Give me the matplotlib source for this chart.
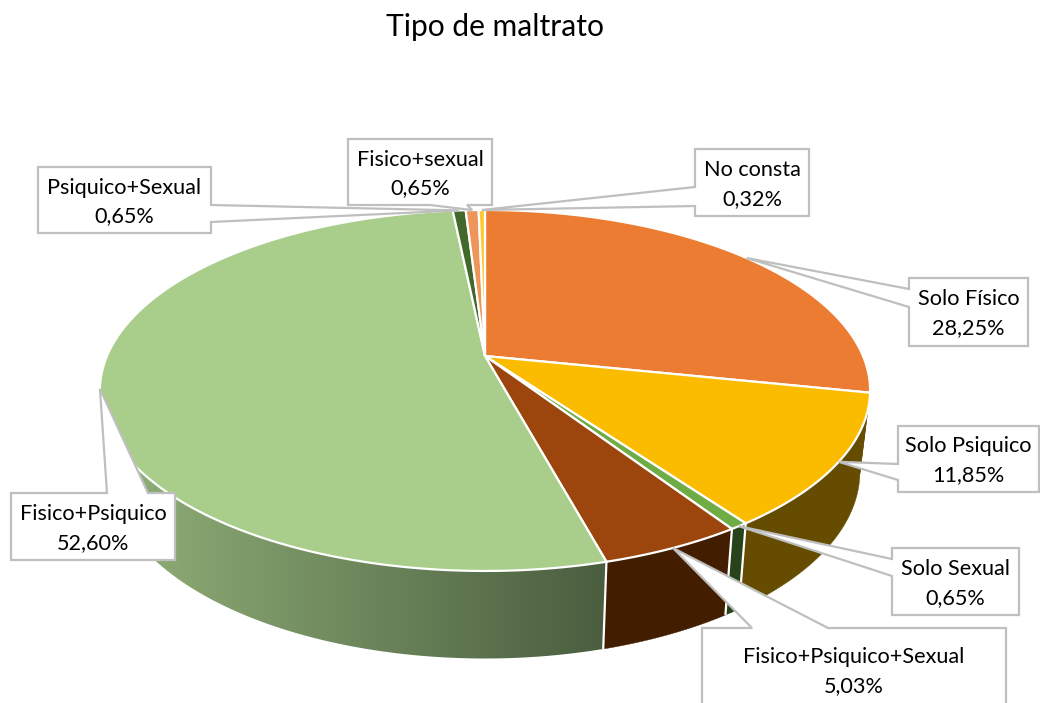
import numpy as np
import matplotlib
matplotlib.use('Agg')
import matplotlib.pyplot as plt
from matplotlib.colors import LinearSegmentedColormap
from matplotlib.patches import Polygon

plt.rcParams['font.family'] = ['Lato', 'DejaVu Sans']

# Datos del grafico
categories = ['Solo Físico', 'Solo Psiquico', 'Solo Sexual', 'Fisico+Psiquico+Sexual',
              'Fisico+Psiquico', 'Psiquico+Sexual', 'Fisico+sexual', 'No consta']
values = [28.25, 11.85, 0.65, 5.03, 52.60, 0.65, 0.65, 0.32]

top_colors = ['#EB7C32', '#FBBC00', '#6FAC46', '#9C460D', '#A9CE8B', '#43682B', '#EE955A', '#FFC82E']
side_colors = ['#5E3114', '#664C00', '#28431B', '#421D00', None, '#28431B', '#5E3114', '#664C00']

# caja de cada etiqueta: x0, y0, x1, y1, lado del que sale la flecha, base de la flecha
boxes = [
    (909, 278, 1028, 346, 'left', 289, 307),
    (898, 426, 1039, 492, 'left', 464, 480),
    (892, 548, 1019, 615, 'left', 559, 576),
    (702, 628, 1006, 720, 'top', 752, 828),
    (11, 493, 175, 560, 'top', 107, 148),
    (38, 167, 211, 233, 'right', 205, 222),
    (348, 139, 492, 205, 'bottom', 430, 467),
    (695, 149, 809, 216, 'left', 187, 206),
]
line_gap = 29

# Proyeccion en perspectiva del circulo, tapa y base
k = 0.191


def top_rim(t):
    w = 1 + k * np.cos(t)
    return 485 + 378 * np.sin(t) / w, 356 - 173.9 * np.cos(t) / w


def bottom_rim(t):
    w = 1 + k * np.cos(t)
    return 485 + 368 * np.sin(t) / w, 436 - 180 * np.cos(t) / w


fig = plt.figure(figsize=(10.4, 7.03), dpi=100)
ax = fig.add_axes([0, 0, 1, 1])

edges = np.radians(np.concatenate([[0], np.cumsum(values)]) * 3.6)

# Lateral
for i in range(len(values)):
    a = max(edges[i], np.radians(95))
    b = min(edges[i + 1], np.radians(275))
    if a >= b:
        continue
    t = np.linspace(a, b, 120)
    xt, yt = top_rim(t)
    xb, yb = bottom_rim(t)
    pts = np.column_stack([np.r_[xt, xb[::-1]], np.r_[yt, yb[::-1]]])
    if side_colors[i] is None:
        # el trozo grande lleva degradado horizontal
        cmap = LinearSegmentedColormap.from_list('lado', ['#93B27A', '#4A5E3F'])
        patch = Polygon(pts, closed=True, facecolor='none', edgecolor='none')
        ax.add_patch(patch)
        im = ax.imshow(np.linspace(0, 1, 256)[None, :], cmap=cmap, aspect='auto',
                       extent=(100, 606, 703, 0), zorder=1)
        im.set_clip_path(patch)
    else:
        ax.add_patch(Polygon(pts, closed=True, facecolor=side_colors[i], edgecolor=side_colors[i],
                             linewidth=0.3, zorder=1))

# separaciones blancas del lateral
for e in edges[1:-1]:
    if np.radians(115) < e < np.radians(265):
        xt, yt = top_rim(e)
        xb, yb = bottom_rim(e)
        ax.plot([xt, xb], [yt, yb], color='white', lw=1.6, zorder=2, solid_capstyle='butt')

# Tapa
for i in range(len(values)):
    t = np.linspace(edges[i], edges[i + 1], 200)
    xt, yt = top_rim(t)
    pts = np.column_stack([np.r_[485, xt], np.r_[356, yt]])
    ax.add_patch(Polygon(pts, closed=True, facecolor=top_colors[i], edgecolor='white',
                         linewidth=1.6, joinstyle='round', zorder=3))

# Etiquetas
for i, box in enumerate(boxes):
    x0, y0, x1, y1, side, p, q = box
    mid = (edges[i] + edges[i + 1]) / 2
    tip = top_rim(mid)
    if side == 'left':
        pts = [(x0, y0), (x1, y0), (x1, y1), (x0, y1), (x0, q), tip, (x0, p)]
    elif side == 'right':
        pts = [(x0, y0), (x1, y0), (x1, p), tip, (x1, q), (x1, y1), (x0, y1)]
    elif side == 'top':
        pts = [(x0, y0), (p, y0), tip, (q, y0), (x1, y0), (x1, y1), (x0, y1)]
    else:
        pts = [(x0, y0), (x1, y0), (x1, y1), (q, y1), tip, (p, y1), (x0, y1)]
    ax.add_patch(Polygon(pts, closed=True, facecolor='white', edgecolor='#BFBFBF',
                         linewidth=1.6, joinstyle='miter', zorder=4))
    xc = (x0 + x1) / 2
    yc = (y0 + min(y1, y0 + 67)) / 2 + 2 + (8 if side == 'top' and x0 > 600 else 0)
    txt = '%.2f%%' % values[i]
    ax.text(xc, yc - line_gap / 2, categories[i], ha='center', va='center',
            fontsize=15.6, color='black', zorder=5)
    ax.text(xc, yc + line_gap / 2, txt.replace('.', ','), ha='center', va='center',
            fontsize=15.6, color='black', zorder=5)

ax.text(495, 27, 'Tipo de maltrato', ha='center', va='center', fontsize=21.6, color='black')

ax.set_xlim(0, 1040)
ax.set_ylim(703, 0)
ax.axis('off')
fig.savefig('out.png', dpi=100, facecolor='white')
